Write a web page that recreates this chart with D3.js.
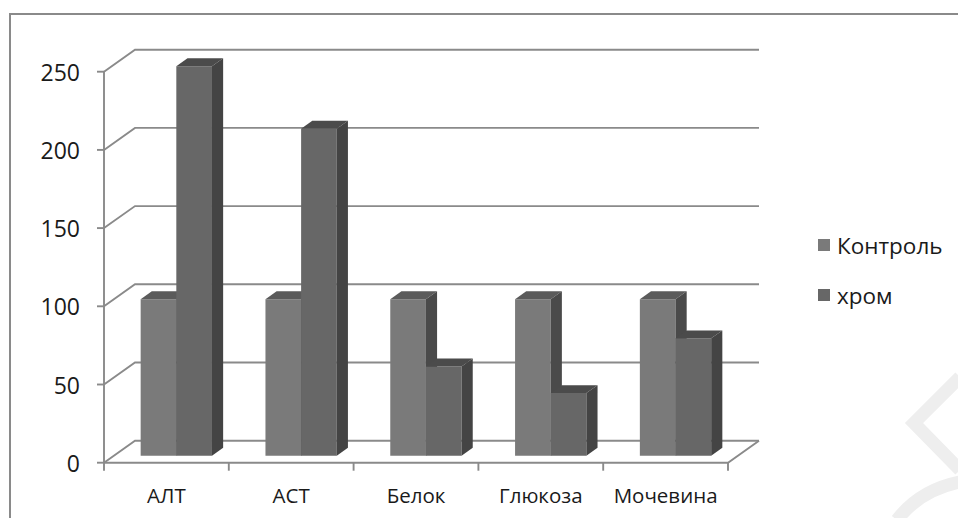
<!DOCTYPE html>
<html>
<head>
<meta charset="utf-8">
<script src="https://cdn.jsdelivr.net/npm/d3@7"></script>
<style>
  html, body { margin: 0; padding: 0; background: #ffffff; }
  svg { display: block; }
  text { font-family: "Open Sans", "Noto Sans", sans-serif; fill: #1a1a1a; }
</style>
</head>
<body>
<svg id="chart" width="958" height="518"></svg>
<script>
// Biochemical indicators, control vs chromium group
const categories = ["АЛТ", "АСТ", "Белок", "Глюкоза", "Мочевина"];
const seriesNames = ["Контроль", "хром"];
const controlValues = [100, 100, 100, 100, 100];
const chromValues = [249, 209, 57, 40, 75];
const yTicks = [0, 50, 100, 150, 200, 250];

const seriesValues = [controlValues, chromValues];
const faceColors = [
  { front: "#7a7a7a", top: "#5b5b5b", side: "#4a4a4a" },
  { front: "#676767", top: "#4b4b4b", side: "#444444" }
];
const legendColors = ["#7a7a7a", "#676767"];

const svg = d3.select("#chart");

// outer chart frame
svg.append("rect")
  .attr("x", 10).attr("y", 14).attr("width", 980).attr("height", 540)
  .attr("fill", "#ffffff").attr("stroke", "#8a8a8a").attr("stroke-width", 2);

// front plane of the 3-D box and its depth offset
const x = d3.scaleBand().domain(categories).range([104, 728]).padding(0);
const y = d3.scaleLinear().domain([0, 250]).range([462.7, 71.7]);
const DX = 31, DY = -22;
const P = (px, v, z) => [px + z * DX, y(v) + z * DY];

const gridColor = "#8a8a8a";
const grid = svg.append("g").attr("fill", "none").attr("stroke", gridColor).attr("stroke-width", 1.9);

// back wall gridlines and side wall diagonals
yTicks.forEach(t => {
  const a = P(x.range()[0], t, 0), b = P(x.range()[0], t, 1), c = P(x.range()[1], t, 1);
  grid.append("path").attr("d", d3.line()([a, b, c]));
});
// floor front and right edges
grid.append("path").attr("d", d3.line()([P(104, 0, 0), P(728, 0, 0), P(728, 0, 1)]));
// vertical value axis
grid.append("path").attr("d", d3.line()([P(104, 0, 0), P(104, 250, 0)]));
// value ticks
yTicks.forEach(t => {
  grid.append("path").attr("d", d3.line()([[97, y(t)], [104, y(t)]]));
});
// category boundary ticks
const bounds = categories.map(c => x(c)).concat([x.range()[1]]);
bounds.forEach(bx => {
  grid.append("path").attr("d", d3.line()([[bx, y(0)], [bx, y(0) + 8]]));
});

// value labels
svg.append("g").selectAll("text").data(yTicks).join("text")
  .attr("x", 80).attr("y", d => y(d))
  .attr("text-anchor", "end").attr("dominant-baseline", "central")
  .attr("font-size", 23)
  .text(d => d);

// category labels
svg.append("g").selectAll("text").data(categories).join("text")
  .attr("x", d => x(d) + x.bandwidth() / 2).attr("y", 495)
  .attr("text-anchor", "middle").attr("dominant-baseline", "central")
  .attr("font-size", 20.5)
  .text(d => d);

// columns inside each category, gap width 150%
const xs = d3.scaleBand().domain(seriesNames).range([0, x.bandwidth()])
  .paddingInner(0).paddingOuter(0.75);
const w = xs.bandwidth();
const zA = 0.32, zB = 0.68;
const poly = pts => "M" + pts.map(p => p.join(",")).join("L") + "Z";

const bars = svg.append("g");
categories.forEach((cat, i) => {
  seriesNames.forEach((s, j) => {
    const v = seriesValues[j][i];
    const x0 = x(cat) + xs(s), x1 = x0 + w;
    const col = faceColors[j];
    const g = bars.append("g");
    g.append("path").attr("fill", col.front)
      .attr("d", poly([P(x0, 0, zA), P(x1, 0, zA), P(x1, v, zA), P(x0, v, zA)]));
    g.append("path").attr("fill", col.top)
      .attr("d", poly([P(x0, v, zA), P(x1, v, zA), P(x1, v, zB), P(x0, v, zB)]));
    g.append("path").attr("fill", col.side)
      .attr("d", poly([P(x1, 0, zA), P(x1, v, zA), P(x1, v, zB), P(x1, 0, zB)]));
  });
});

// legend
const legend = svg.append("g");
seriesNames.forEach((s, j) => {
  const cy = 245 + j * 50;
  legend.append("rect").attr("x", 818).attr("y", cy - 6).attr("width", 12).attr("height", 12)
    .attr("fill", legendColors[j]);
  legend.append("text").attr("x", 837).attr("y", cy)
    .attr("dominant-baseline", "central").attr("font-size", 22.5)
    .text(s);
});

// faint mark in the lower right corner
const mark = svg.append("g").attr("fill", "none").attr("stroke", "#eeeeee").attr("stroke-width", 13);
mark.append("path").attr("d", "M960,377L914,423L960,470");
mark.append("path").attr("d", "M897,520Q920,490 960,482");
</script>
</body>
</html>
